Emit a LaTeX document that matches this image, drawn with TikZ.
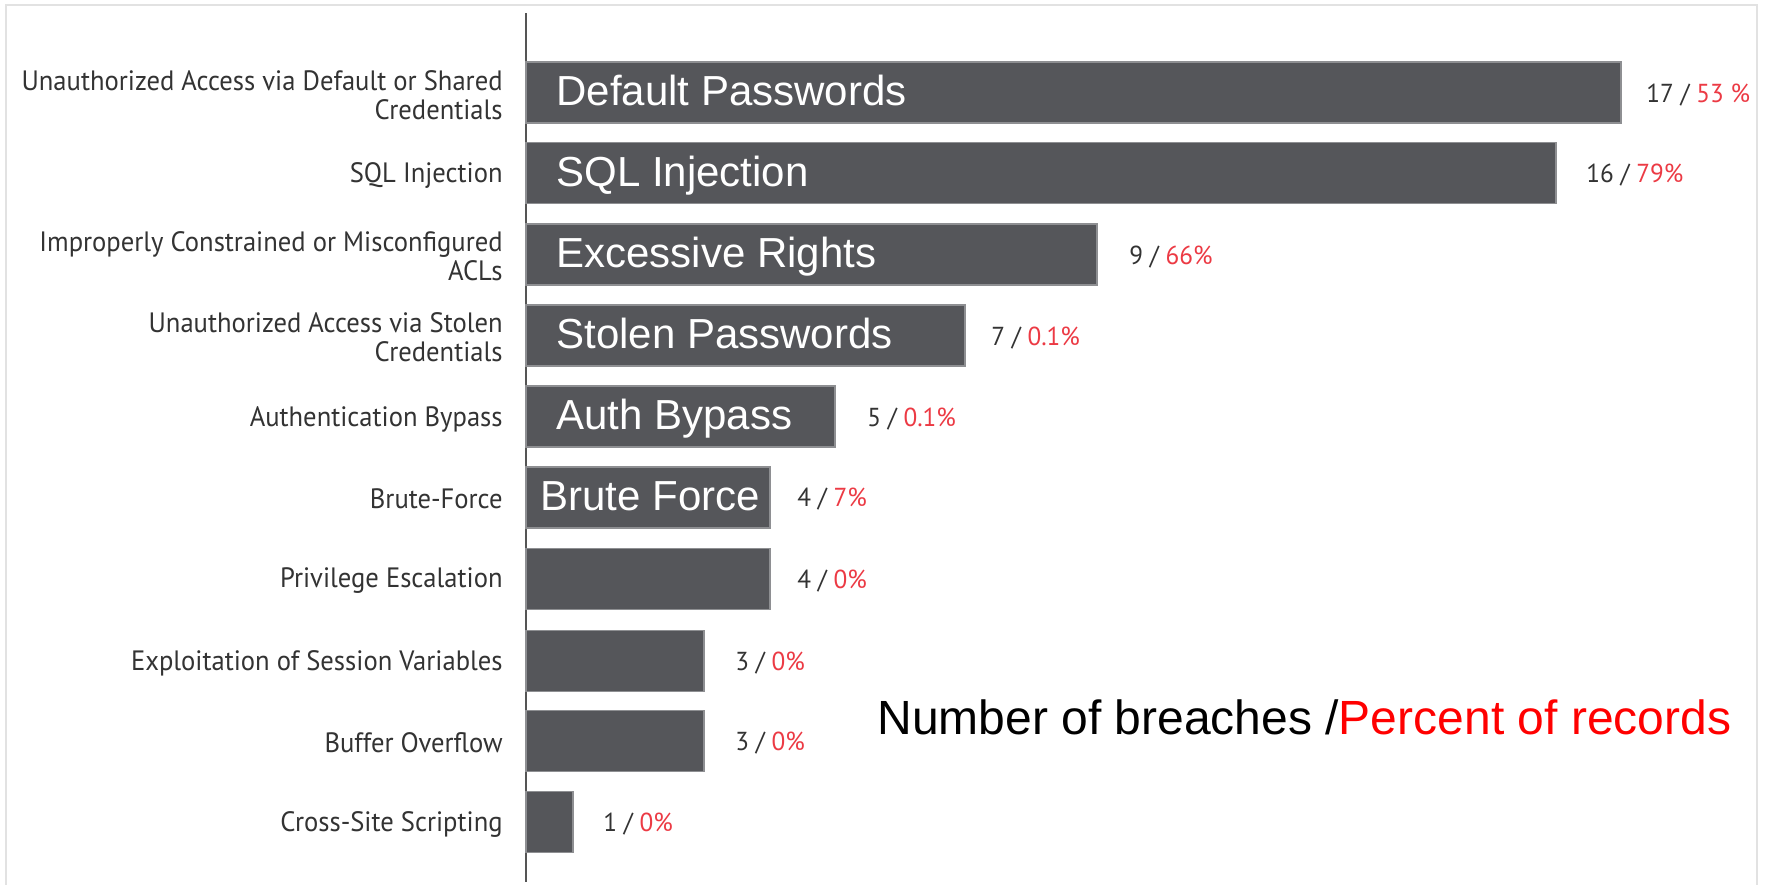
\documentclass[tikz,border=0pt]{standalone}
\usepackage{fontspec}
\setmainfont{Liberation Sans}
\newfontfamily\labfont[FakeStretch=0.95]{PT Sans}
\newfontfamily\valfont[FakeStretch=0.97]{PT Sans}
\definecolor{barfill}{HTML}{55565A}
\definecolor{barline}{HTML}{8E8F92}
\definecolor{labgray}{HTML}{333333}
\definecolor{pctred}{HTML}{EC3A44}
\definecolor{framegray}{HTML}{E2E2E2}
\definecolor{axisgray}{HTML}{555555}
\begin{document}
\begin{tikzpicture}[x=0.5pt,y=-0.5pt,
  bar/.style={rectangle, draw=barline, fill=barfill, line width=0.6pt, inner sep=0pt, outer sep=0pt, minimum height=30.5pt, anchor=west},
  inlab/.style={anchor=base west, text=white, inner sep=0pt, font=\fontsize{21}{25}\selectfont},
  catlab/.style={anchor=east, align=right, text=labgray, inner sep=0pt, font=\labfont\fontsize{14}{14.5}\selectfont},
  vallab/.style={anchor=west, text=labgray, inner sep=0pt, font=\valfont\fontsize{13}{14}\selectfont},
  pct/.style={text=pctred}
]
\useasboundingbox (0,0) rectangle (1765,885);
\fill[white] (0,0) rectangle (1765,885);
% frame
\draw[framegray, line width=1pt] (6,885) -- (6,5) -- (1757,5) -- (1757,885);
% axis
\coordinate (axtop) at (526,13);
\coordinate (axbot) at (526,882);
\draw[axisgray, line width=0.9pt] (axtop) -- (axbot);

% bars
\node[bar, minimum width=547.5pt] (b1) at (526,92.5) {};
\node[bar, minimum width=515pt]   (b2) at (526,173) {};
\node[bar, minimum width=285.5pt] (b3) at (526,254.5) {};
\node[bar, minimum width=219.5pt] (b4) at (526,335.5) {};
\node[bar, minimum width=154.5pt] (b5) at (526,416.5) {};
\node[bar, minimum width=122pt]   (b6) at (526,497.5) {};
\node[bar, minimum width=122pt]   (b7) at (526,579) {};
\node[bar, minimum width=89pt]    (b8) at (526,661) {};
\node[bar, minimum width=89pt]    (b9) at (526,741) {};
\node[bar, minimum width=23.5pt]  (b10) at (526,822) {};

% inner labels
\node[inlab] (t1) at (556,105.5) {Default Passwords};
\node[inlab] (t2) at (556,186) {SQL Injection};
\node[inlab] (t3) at (556,267.5) {Excessive Rights};
\node[inlab] (t4) at (556,348.5) {Stolen Passwords};
\node[inlab] (t5) at (556,429.5) {Auth Bypass};
\node[inlab] (t6) at (540,510.5) {Brute Force};

% category labels
\node[catlab] (c1) at (503,95) {Unauthorized Access via Default or Shared\\Credentials};
\node[catlab] (c2) at (503,175) {SQL Injection};
\node[catlab] (c3) at (503,256) {Improperly Constrained or Misconfigured\\ACLs};
\node[catlab] (c4) at (503,337) {Unauthorized Access via Stolen\\Credentials};
\node[catlab] (c5) at (503,419) {Authentication Bypass};
\node[catlab] (c6) at (503,499) {Brute-Force};
\node[catlab] (c7) at (503,581) {Privilege Escalation};
\node[catlab] (c8) at (503,663) {Exploitation of Session Variables};
\node[catlab] (c9) at (503,743) {Buffer Overflow};
\node[catlab] (c10) at (503,824) {Cross-Site Scripting};

% value labels
\node[vallab] (v1) at (1646,95) {17 / \textcolor{pctred}{53 \%}};
\node[vallab] (v2) at (1586,175) {16 / \textcolor{pctred}{79\%}};
\node[vallab] (v3) at (1129,257) {9 / \textcolor{pctred}{66\%}};
\node[vallab] (v4) at (991,338) {7 / \textcolor{pctred}{0.1\%}};
\node[vallab] (v5) at (867,419) {5 / \textcolor{pctred}{0.1\%}};
\node[vallab] (v6) at (797,499) {4 / \textcolor{pctred}{7\%}};
\node[vallab] (v7) at (797,581) {4 / \textcolor{pctred}{0\%}};
\node[vallab] (v8) at (735,663) {3 / \textcolor{pctred}{0\%}};
\node[vallab] (v9) at (735,743) {3 / \textcolor{pctred}{0\%}};
\node[vallab] (v10) at (603,824) {1 / \textcolor{pctred}{0\%}};

% legend
\node[anchor=west, inner sep=0pt, font=\fontsize{24}{28}\selectfont] (legend) at (877,717)
  {Number of breaches /\textcolor{red}{Percent of records}};
\end{tikzpicture}
\end{document}
